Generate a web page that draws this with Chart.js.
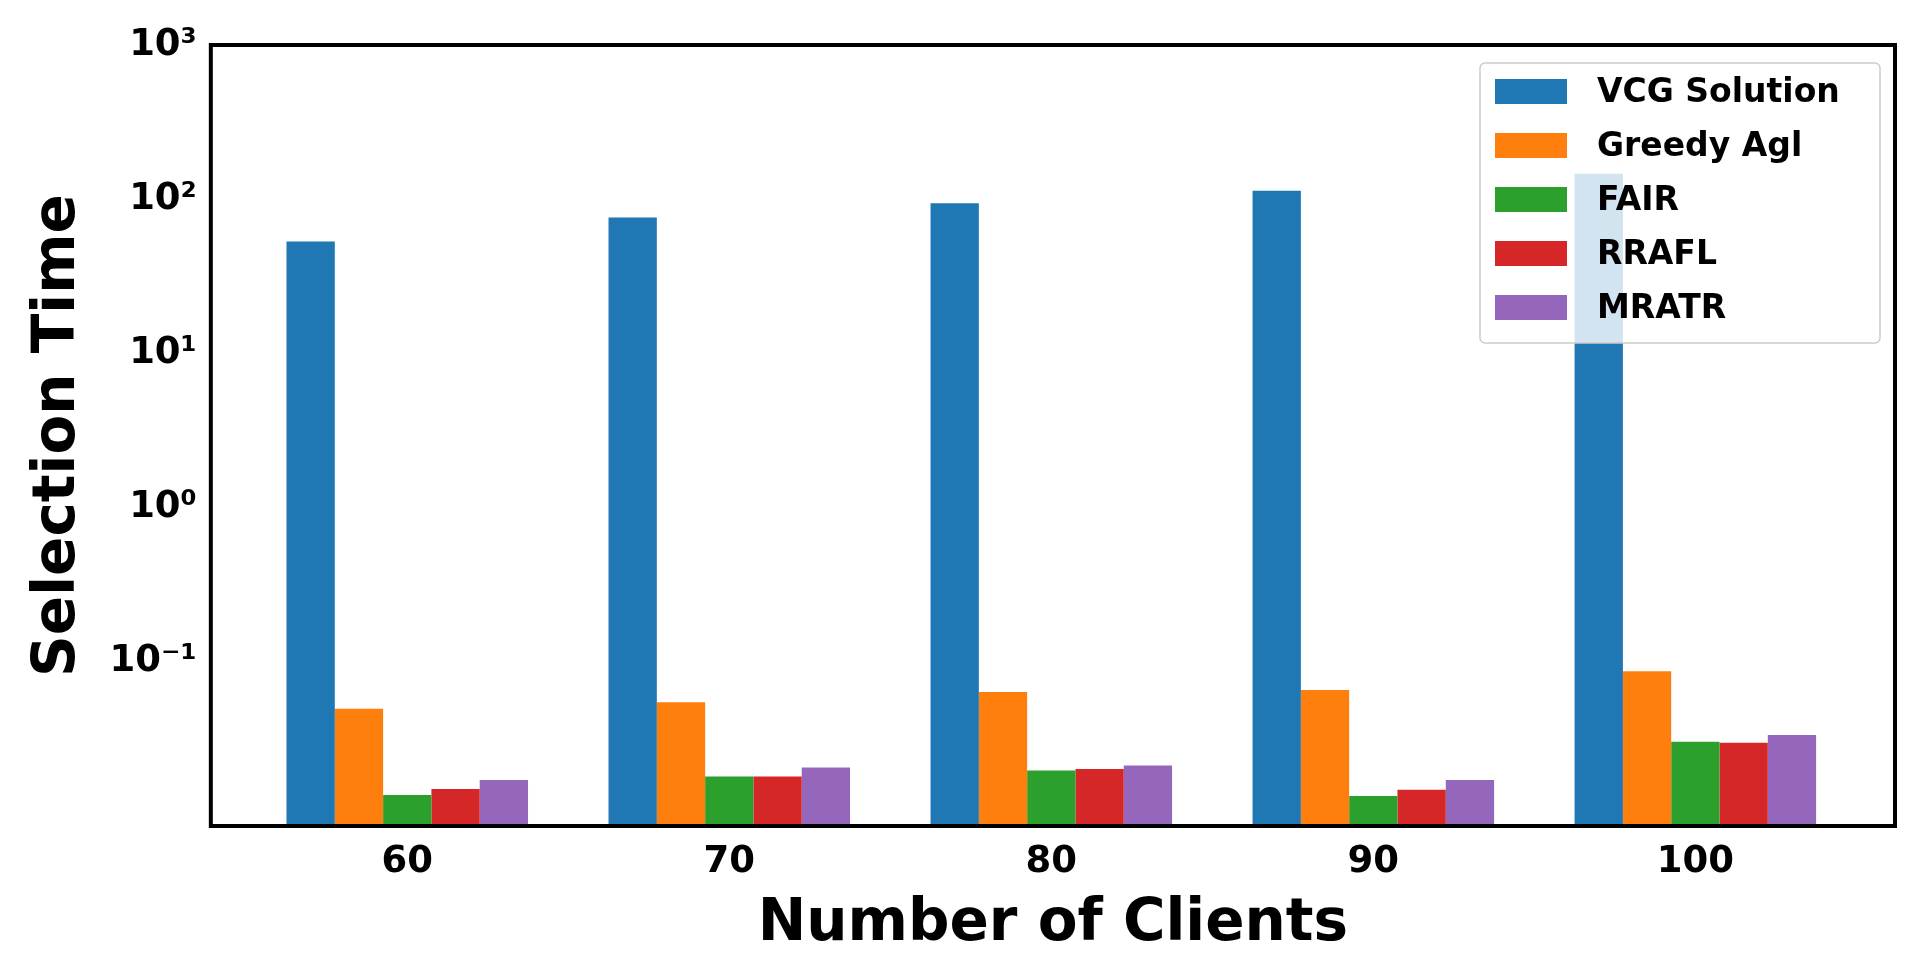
<!DOCTYPE html>
<html>
<head>
<meta charset="utf-8">
<script src="https://cdn.jsdelivr.net/npm/chart.js@4/dist/chart.umd.min.js"></script>
<style>
html, body { margin: 0; background: #fff; }
#wrap { width: 1920px; height: 974px; }
</style>
</head>
<body>
<div id="wrap"><canvas id="chart"></canvas></div>
<script>
const clients = [60, 70, 80, 90, 100];
const seriesNames = ["VCG Solution", "Greedy Agl", "FAIR", "RRAFL", "MRATR"];
const colors = ["#1f77b4", "#ff7f0e", "#2ca02c", "#d62728", "#9467bd"];
const vcg = [53, 76, 94, 113, 146];
const greedy = [0.049, 0.054, 0.063, 0.065, 0.086];
const fair = [0.0135, 0.0178, 0.0195, 0.0133, 0.030];
const rrafl = [0.0148, 0.0178, 0.0199, 0.0146, 0.0295];
const mratr = [0.0169, 0.0204, 0.021, 0.0169, 0.0331];
const yTickValues = [0.1, 1, 10, 100, 1000];
const yTickLabels = ["10⁻¹", "10⁰", "10¹", "10²", "10³"];

const font = "'DejaVu Sans'";
const allSeries = [vcg, greedy, fair, rrafl, mratr];

const frameAndLegend = {
    id: "frameAndLegend",
    afterDraw(c) {
        const ctx = c.ctx, a = c.chartArea;
        ctx.save();
        // legend box, inside top right
        const w = 400, h = 280, x = a.right - w - 15, y = a.top + 18;
        ctx.fillStyle = "rgba(255,255,255,0.8)";
        ctx.strokeStyle = "#cccccc";
        ctx.lineWidth = 1.5;
        ctx.beginPath();
        ctx.roundRect(x, y, w, h, 5);
        ctx.fill();
        ctx.stroke();
        ctx.font = "bold 33px " + font;
        ctx.textBaseline = "middle";
        seriesNames.forEach((name, i) => {
            const ry = y + 28 + i * 54;
            ctx.fillStyle = colors[i];
            ctx.fillRect(x + 15, ry - 12, 72, 25);
            ctx.fillStyle = "#000";
            ctx.fillText(name, x + 117, ry + 2);
        });
        ctx.strokeStyle = "#000";
        ctx.lineWidth = 4;
        ctx.strokeRect(a.left, a.top, a.right - a.left, a.bottom - a.top);
        ctx.restore();
    }
};

new Chart(document.getElementById("chart"), {
    type: "bar",
    data: {
        datasets: seriesNames.map((name, i) => ({
            label: name,
            data: clients.map((x, j) => ({ x: x, y: allSeries[i][j] })),
            backgroundColor: colors[i],
            categoryPercentage: 0.75,
            barPercentage: 1.0
        }))
    },
    options: {
        responsive: true,
        maintainAspectRatio: false,
        animation: false,
        layout: { padding: { left: 20, right: 25, top: 45, bottom: 10 } },
        plugins: { legend: { display: false }, tooltip: { enabled: false } },
        scales: {
            x: {
                type: "linear",
                offset: false,
                min: 53.9,
                max: 106.2,
                afterBuildTicks: s => { s.ticks = clients.map(v => ({ value: v })); },
                grid: { display: false, drawTicks: true, tickLength: 8, tickColor: "#000", tickWidth: 2 },
                border: { display: false },
                ticks: { color: "#000", font: { family: font, size: 37, weight: "bold" }, padding: 6, callback: v => String(v) },
                title: { display: true, text: "Number of Clients", color: "#000", font: { family: font, size: 58, weight: "bold" }, padding: { top: 0 } }
            },
            y: {
                type: "logarithmic",
                min: 0.0085,
                max: 1000,
                afterBuildTicks: s => { s.ticks = yTickValues.map(v => ({ value: v })); },
                grid: { display: false, drawTicks: true, tickLength: 8, tickColor: "#000", tickWidth: 2 },
                border: { display: false },
                ticks: {
                    color: "#000",
                    font: { family: font, size: 37, weight: "bold" },
                    padding: 6,
                    callback: v => yTickLabels[yTickValues.indexOf(v)] || ""
                },
                title: { display: true, text: "Selection Time", color: "#000", font: { family: font, size: 58, weight: "bold" }, padding: { bottom: 10 } }
            }
        }
    },
    plugins: [frameAndLegend]
});
</script>
</body>
</html>
